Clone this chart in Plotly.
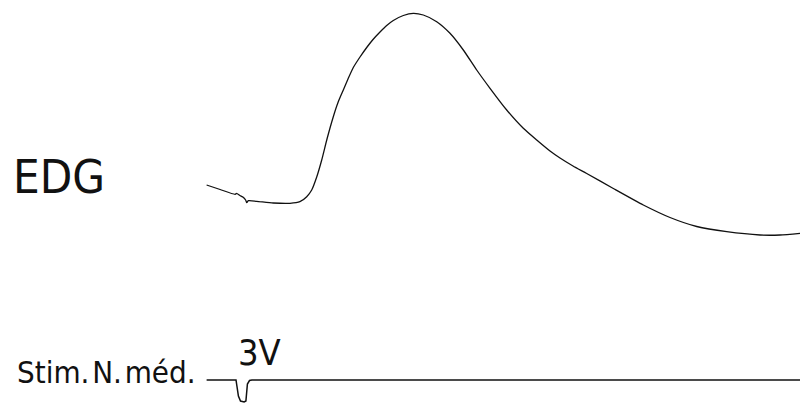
import plotly.graph_objects as go

# EDG trace: time (ms, relative to trace start) and amplitude (arbitrary units, baseline = 0)
edg_t = [0.2, 4.7, 9.7, 10.2, 11.3, 12.4, 13.2, 13.6, 14.1, 16.9, 22.4, 28.0, 31.3,
         33.57, 35.23, 36.9, 38.57, 40.33, 42.43, 44.0, 45.77, 47.33, 49.1, 51.33, 53.57,
         55.67, 58.0, 60.23, 62.43, 65.77, 69.1, 72.43, 76.9, 81.33, 85.77, 90.23, 94.67,
         100.23, 105.77, 110.23, 114.67, 118.0, 122.33, 126.9, 135.77, 145.77, 154.67,
         163.57, 173.57, 184.67, 191.33, 198.0]
edg_v = [18.0, 13.5, 8.7, 9.7, 7.5, 5.7, 3.0, 0.3, 2.3, 1.7, 0.0, -0.3, 1.3,
         6.3, 13.0, 26.0, 43.0, 64.0, 86.3, 100.5, 113.0, 124.0, 135.5, 146.0, 155.5,
         163.5, 171.0, 177.5, 182.5, 187.5, 189.7, 188.0, 181.3, 169.7, 153.0, 133.0, 114.7,
         93.0, 74.7, 63.0, 52.0, 45.0, 37.0, 29.5, 14.5, -2.0, -14.5,
         -23.5, -28.7, -32.0, -32.0, -30.3]

# Stimulus trace (nerve median), same time base, amplitude relative to its own baseline
stim_t = [0.2, 10.0, 10.3, 10.8, 11.5, 12.7, 13.3, 13.6, 13.8, 14.5, 15.3, 198.0]
stim_v = [0.0, 0.0, -6.0, -16.0, -21.0, -22.0, -21.0, -12.0, -4.0, -0.5, 0.0, 0.0]

labels = {"edg": "EDG", "stim": "Stim.\u200aN.\u200améd.", "amp": "3V"}

STIM_OFFSET = -177.0
T0, T1 = -68.67, 198.33
V0, V1 = -203.0, 203.0

FONT = "DejaVu Sans Condensed, DejaVu Sans, sans-serif"

fig = go.Figure()
fig.add_trace(go.Scatter(x=edg_t, y=edg_v, mode="lines",
                         line=dict(color="#111111", width=1.3, shape="spline", smoothing=0.6),
                         hoverinfo="skip", showlegend=False))
fig.add_trace(go.Scatter(x=stim_t, y=[v + STIM_OFFSET for v in stim_v], mode="lines",
                         line=dict(color="#111111", width=1.5),
                         hoverinfo="skip", showlegend=False))

def py(ypx):
    return 1 - ypx / 406.0

fig.add_annotation(text=labels["edg"], xref="paper", yref="paper", x=11 / 801, y=py(176),
                   xanchor="left", yanchor="middle", showarrow=False,
                   font=dict(family=FONT, size=47, color="#111111"))
fig.add_annotation(text=labels["stim"], xref="paper", yref="paper", x=15 / 801, y=py(372),
                   xanchor="left", yanchor="middle", showarrow=False,
                   font=dict(family=FONT, size=31, color="#111111"))
fig.add_annotation(text=labels["amp"], xref="paper", yref="paper", x=236 / 801, y=py(352),
                   xanchor="left", yanchor="middle", showarrow=False,
                   font=dict(family=FONT, size=36, color="#111111"))

fig.update_layout(width=801, height=406, margin=dict(l=0, r=0, t=0, b=0),
                  paper_bgcolor="white", plot_bgcolor="white",
                  xaxis=dict(range=[T0, T1], visible=False, fixedrange=True),
                  yaxis=dict(range=[V0, V1], visible=False, fixedrange=True))

fig.write_html("out.html", config={"displayModeBar": False})
